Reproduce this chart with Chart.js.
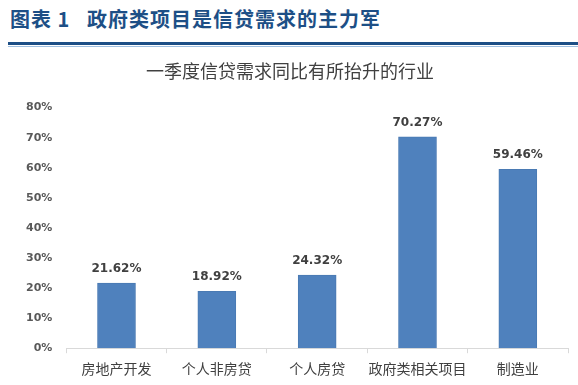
<!DOCTYPE html>
<html>
<head>
<meta charset="utf-8">
<script src="https://cdn.jsdelivr.net/npm/chart.js@4/dist/chart.umd.min.js"></script>
<style>
  html, body { margin: 0; padding: 0; background: #fff; }
  #head { position: absolute; left: 10px; top: 4px; font: bold 20px "Noto Sans CJK SC", serif; color: #1d4f86; letter-spacing: 1px; }
  #rule1 { position: absolute; left: 8px; right: 0; top: 42px; height: 3px; background: #1d4f86; }
  #rule2 { position: absolute; left: 8px; right: 0; top: 46px; height: 1px; background: #9fbfe0; }
  #wrap { position: absolute; left: 0; top: 50px; width: 578px; height: 335px; }
</style>
</head>
<body>
<div id="head">图表 1&nbsp;&nbsp;&nbsp;政府类项目是信贷需求的主力军</div>
<div id="rule1"></div>
<div id="rule2"></div>
<div id="wrap"><canvas id="c" width="578" height="335"></canvas></div>
<script>
let categories = ['房地产开发', '个人非房贷', '个人房贷', '政府类相关项目', '制造业']
let values = [21.62, 18.92, 24.32, 70.27, 59.46]
let yTicks = [0, 10, 20, 30, 40, 50, 60, 70, 80]

// draw the value above every bar
let barLabels = {
    id: 'barLabels',
    afterDatasetsDraw: function(chart) {
        let ctx = chart.ctx
        ctx.save()
        ctx.font = 'bold 12px "DejaVu Sans", sans-serif'
        ctx.fillStyle = '#404040'
        ctx.textAlign = 'center'
        ctx.textBaseline = 'bottom'
        chart.getDatasetMeta(0).data.forEach(function(bar, i) {
            ctx.fillText(values[i].toFixed(2) + '%', bar.x, bar.y - 8)
        })
        ctx.restore()
    }
}

new Chart(document.getElementById('c'), {
    type: 'bar',
    data: {
        labels: categories,
        datasets: [{
            data: values,
            backgroundColor: '#4f81bd',
            borderColor: '#4a7ab3',
            borderWidth: 1,
            barThickness: 38
        }]
    },
    options: {
        responsive: false,
        animation: false,
        layout: { padding: { left: 12, right: 10, top: 0, bottom: 1 } },
        plugins: {
            legend: { display: false },
            tooltip: { enabled: false },
            title: {
                display: true,
                text: '一季度信贷需求同比有所抬升的行业',
                color: '#404040',
                font: { family: '"Noto Sans CJK SC"', size: 18, weight: 'normal' },
                padding: { top: 10, bottom: 26 }
            }
        },
        scales: {
            y: {
                min: 0,
                max: 80,
                afterBuildTicks: function(axis) {
                    axis.ticks = yTicks.map(function(v) { return { value: v } })
                },
                grid: { display: false, drawTicks: false },
                border: { display: false },
                ticks: {
                    padding: 14,
                    color: '#595959',
                    font: { family: '"DejaVu Sans", sans-serif', size: 11, weight: 'bold' },
                    callback: function(v) { return v + '%' }
                }
            },
            x: {
                grid: { display: true, drawOnChartArea: false, offset: true, color: '#d9d9d9', tickLength: 5 },
                border: { display: true, color: '#d9d9d9' },
                ticks: {
                    color: '#404040',
                    padding: 7,
                    maxRotation: 0,
                    minRotation: 0,
                    autoSkip: false,
                    font: { family: '"Noto Sans CJK SC"', size: 14 }
                }
            }
        }
    },
    plugins: [barLabels]
});
</script>
</body>
</html>
